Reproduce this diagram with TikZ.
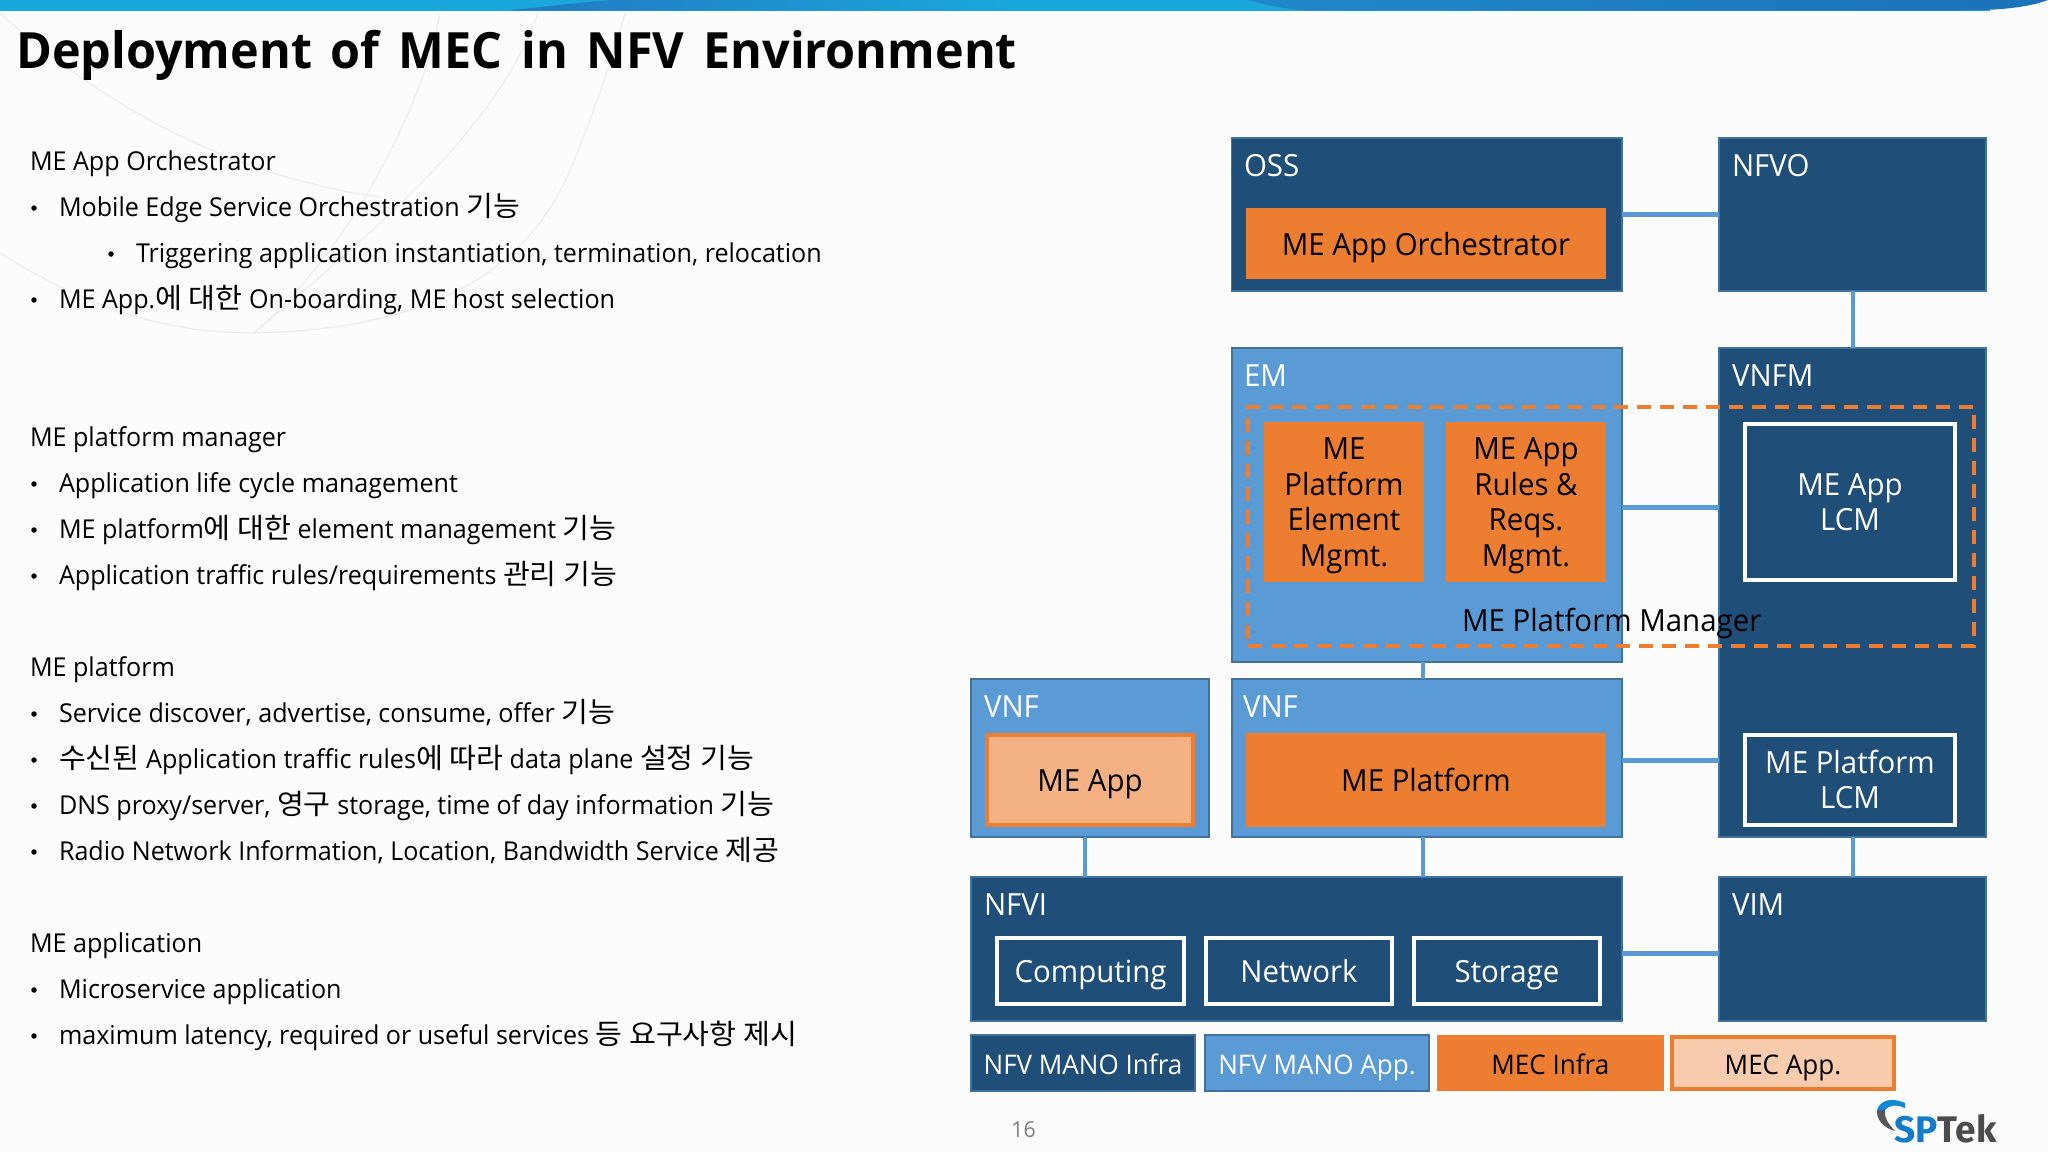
\documentclass[tikz,border=0pt]{standalone}
\usepackage{fontspec}
\setmainfont{Open Sans}[FakeStretch=0.965]
\newfontfamily\titlef{Open Sans}[FakeStretch=0.97,WordSpace=1.5]
\newfontfamily\krf{Noto Sans CJK KR}[Scale=1.08,FakeStretch=1.04]
\newfontfamily\logof{Fira Sans}
\newcommand\kr[1]{{\krf #1}}
\newcommand\sz[2]{\fontsize{#1}{#2}\selectfont}
\definecolor{navy}{HTML}{1F4E79}
\definecolor{sky}{HTML}{5B9BD5}
\definecolor{edge}{HTML}{41719C}
\definecolor{orng}{HTML}{ED7D31}
\definecolor{peach}{HTML}{F4B183}
\definecolor{peachl}{HTML}{F8CBAD}
\definecolor{barb}{HTML}{1AA7DC}
\definecolor{bard}{HTML}{2278C0}
\definecolor{barm}{HTML}{2088C8}
\definecolor{bare}{HTML}{1B72B8}
\definecolor{swirl}{HTML}{EDEDF0}
\tikzset{
  bx/.style={rectangle,inner sep=0pt,outer sep=0pt,align=center,font=\sz{30.5}{35.8}},
  darkbox/.style={bx,fill=navy,draw=edge,line width=1.5pt,text=white},
  lightbox/.style={bx,fill=sky,draw=edge,line width=2pt,text=white},
  orangebox/.style={bx,fill=orng,text=black},
  peachbox/.style={bx,fill=peach,draw=orng,line width=3.5pt,text=black},
  whitebox/.style={bx,fill=navy,draw=white,line width=3.5pt,text=white},
  legend/.style={font=\sz{27}{30}},
  link/.style={draw=sky,line width=5pt},
  linkv/.style={draw=sky,line width=4pt},
  mgrbox/.style={rectangle,inner sep=0pt,outer sep=0pt,draw=orng,line width=3.5pt,dash pattern=on 14pt off 9pt},
  head/.style={anchor=base west,inner sep=0pt,outer sep=0pt,text=white,font=\sz{30.5}{35.8}},
  body/.style={anchor=base west,inner sep=0pt,outer sep=0pt,text=black,font=\sz{26}{30}},
  bul/.style={anchor=center,inner sep=0pt,outer sep=0pt,circle,fill=black,minimum size=5.5pt},
  swirlline/.style={draw=swirl,line width=1.3pt},
}
\newcommand\bxn[7][]{%
  \pgfmathsetmacro\cxv{(#4+#6)/2}\pgfmathsetmacro\cyv{(#5+#7)/2}%
  \pgfmathsetmacro\wv{#6-#4}\pgfmathsetmacro\hv{#7-#5}%
  \node[#2,minimum width=\wv pt,minimum height=\hv pt] (#3) at (\cxv,\cyv) {\rule{0pt}{30pt}#1\rule[-8pt]{0pt}{8pt}};}
\newcommand\itm[3]{\node[bul] (b#1) at (34,#3-8) {}; \node[body] (t#1) at (59,#3) {#2};}
\begin{document}
\begin{tikzpicture}[x=1pt,y=-1pt]
\useasboundingbox (0,0) rectangle (2048,1152);
\fill[white!99!black] (0,0) rectangle (2048,1152);
% faint background curves
\draw[swirlline] (0,13) .. controls (90,95) and (220,175) .. (380,197);
\draw[swirlline] (0,253) .. controls (90,310) and (170,333) .. (254,333) .. controls (400,330) and (520,290) .. (570,170) .. controls (595,110) and (612,60) .. (625,13);
\draw[swirlline] (440,13) .. controls (420,120) and (340,260) .. (254,333);
\draw[swirlline] (538,13) .. controls (500,120) and (400,210) .. (254,333);
% top bar
\fill[barb] (0,0) rectangle (1990,10.5);
\shade[left color=bard,right color=barb] (509,10.5) .. controls (550,6) and (585,2) .. (612,0) -- (1000,0) -- (1000,10.5) -- cycle;
\shade[left color=barm,right color=bare] (1248,0) .. controls (1265,5) and (1285,9) .. (1305,10.5) -- (1960,10.5) .. controls (2000,10.5) and (2030,7) .. (2048,0) -- cycle;
% title
\node[anchor=base west,inner sep=0pt,text=black,font=\titlef\bfseries\sz{50}{57}] (title) at (16,68) {Deployment of MEC in NFV Environment};
% left text
\node[body] (h1) at (30,170) {ME App Orchestrator};
\itm{a}{Mobile Edge Service Orchestration \kr{기능}}{216}
\node[bul] (bsub) at (111,254) {};
\node[body] (tsub) at (136,262) {Triggering application instantiation, termination, relocation};
\itm{c}{ME App.\kr{에 대한} On-boarding, ME host selection}{308}
\node[body] (h2) at (30,446) {ME platform manager};
\itm{d}{Application life cycle management}{492}
\itm{e}{ME platform\kr{에 대한} element management \kr{기능}}{538}
\itm{f}{Application traffic rules/requirements \kr{관리 기능}}{584}
\node[body] (h3) at (30,676) {ME platform};
\itm{g}{Service discover, advertise, consume, offer \kr{기능}}{722}
\itm{h}{\kr{수신된} Application traffic rules\kr{에 따라} data plane \kr{설정 기능}}{768}
\itm{i}{DNS proxy/server, \kr{영구} storage, time of day information \kr{기능}}{814}
\itm{j}{Radio Network Information, Location, Bandwidth Service \kr{제공}}{860}
\node[body] (h4) at (30,952) {ME application};
\itm{k}{Microservice application}{998}
\itm{l}{maximum latency, required or useful services \kr{등 요구사항 제시}}{1044}
% boxes
\bxn{darkbox}{oss}{1231.5}{138}{1622}{291}
\bxn{darkbox}{nfvo}{1719}{138}{1986}{291}
\bxn[ME App Orchestrator]{orangebox,text depth=6pt}{orch}{1246}{208}{1606}{279}
\bxn{lightbox}{em}{1231.5}{348}{1622}{662}
\bxn{darkbox}{vnfm}{1719}{348}{1986}{837}
\bxn[ME\\Platform\\Element\\Mgmt.]{orangebox}{pem}{1264}{422}{1424}{582}
\bxn[ME App\\Rules \&\\Reqs.\\Mgmt.]{orangebox}{rules}{1446}{422}{1606}{582}
\bxn[ME App\\LCM]{whitebox}{alcm}{1745}{424}{1955}{580}
\bxn{lightbox}{vnfa}{971}{679}{1208.5}{837}
\bxn{lightbox}{vnfb}{1231.5}{679}{1622}{837}
\bxn[ME App]{peachbox}{meapp}{987}{735}{1193}{825}
\bxn[ME Platform]{orangebox}{mep}{1246}{733}{1606}{827}
\bxn[ME Platform\\LCM]{whitebox}{plcm}{1745}{735}{1955}{825}
\bxn{darkbox}{nfvi}{971}{877}{1622}{1021}
\bxn{darkbox}{vim}{1719}{877}{1986}{1021}
\bxn[Computing]{whitebox}{comp}{997}{938}{1184}{1004}
\bxn[Network]{whitebox}{net}{1206}{938}{1392}{1004}
\bxn[Storage]{whitebox}{stor}{1414}{938}{1600}{1004}
\bxn[NFV MANO Infra]{darkbox,legend}{l1}{971}{1035}{1195}{1091}
\bxn[NFV MANO App.]{lightbox,legend}{l2}{1205}{1035}{1429}{1091}
\bxn[MEC Infra]{orangebox,legend}{l3}{1437}{1035}{1663.5}{1091}
\bxn[MEC App.]{peachbox,fill=peachl,legend}{l4}{1672}{1037}{1894}{1089}
% connectors
\draw[link] (oss.east) -- (nfvo.west);
\draw[linkv] (nfvo.south) -- (vnfm.north);
\draw[link] ([yshift=-2pt]em.east) -- ([yshift=-2pt]em.east -| vnfm.west);
\draw[linkv] ([xshift=-4pt]em.south) -- ([xshift=-4pt]vnfb.north);
\draw[link] ([yshift=-2pt]vnfb.east) -- ([yshift=-2pt]vnfb.east -| vnfm.west);
\draw[linkv] ([xshift=-5pt]vnfa.south) -- ([xshift=-5pt]vnfa.south |- nfvi.north);
\draw[linkv] ([xshift=-4pt]vnfb.south) -- ([xshift=-4pt]vnfb.south |- nfvi.north);
\draw[linkv] (vnfm.south) -- (vim.north);
\draw[link] ([yshift=-4pt]nfvi.east) -- ([yshift=-4pt]vim.west);
% box headings
\node[head] (tOSS) at (1244,176) {OSS};
\node[head] (tNFVO) at (1732,176) {NFVO};
\node[head] (tEM) at (1244,386) {EM};
\node[head] (tVNFM) at (1732,386) {VNFM};
\node[head] (tVNFa) at (984,717) {VNF};
\node[head] (tVNFb) at (1243,717) {VNF};
\node[head] (tNFVI) at (984,915) {NFVI};
\node[head] (tVIM) at (1732,915) {VIM};
% manager outline
\bxn{mgrbox}{mgr}{1248}{407}{1974}{646}
\node[head,text=black] (tmgr) at (1462,631) {ME Platform Manager};
% page number
\node[anchor=center,inner sep=0pt,text=black!50,font=\sz{22}{26}] (pg) at (1023.5,1130) {16};
% logo
\fill[black!65] (1877,1110) .. controls (1876,1120) and (1884,1128) .. (1895,1131) .. controls (1888,1124) and (1884,1117) .. (1885,1110) -- cycle;
\fill[cyan!70!blue] (1877,1110) .. controls (1880,1100) and (1892,1097) .. (1905,1103) -- (1905,1108) .. controls (1896,1104) and (1889,1105) .. (1885,1110) -- cycle;
\node[anchor=base west,inner sep=0pt,text=cyan!60!blue,font=\logof\bfseries\sz{37}{40}] (lg1) at (1894,1142) {SP};
\node[anchor=base west,inner sep=0pt,text=black!70,font=\logof\bfseries\sz{37}{40}] (lg2) at (lg1.base east) {Tek};
\end{tikzpicture}
\end{document}
